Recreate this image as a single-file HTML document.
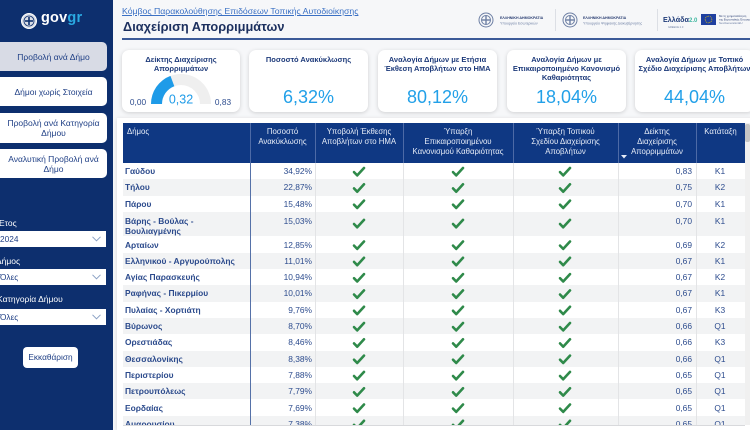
<!DOCTYPE html>
<html>
<head>
<meta charset="utf-8">
<style>
*{box-sizing:border-box;margin:0;padding:0}
html,body{width:750px;height:430px;overflow:hidden}
body{position:relative;background:#f6f7f9;font-family:"Liberation Sans","DejaVu Sans",sans-serif;color:#1f3d7e}
.abs{position:absolute}
#side{left:0;top:0;width:113px;height:430px;background:#0d2f6e}
.btn{position:absolute;left:0;width:107px;background:#fff;border-radius:0 5px 5px 0;color:#1f3f85;font-size:8.5px;text-align:center;display:flex;align-items:center;justify-content:center;line-height:10px}
.lbl{position:absolute;left:-2px;color:#fff;font-size:8.5px}
.dd{position:absolute;left:0;width:106px;height:16px;background:#fff;color:#1f3f85;font-size:8.3px;line-height:16px;padding-left:0px}
.dd svg{position:absolute;right:5px;top:5px}
.card{position:absolute;top:50px;height:62px;background:#fff;border-radius:7px;box-shadow:0 1px 4px rgba(0,0,0,0.16)}
.ct{position:absolute;left:0;right:0;top:5px;text-align:center;font-size:7.5px;font-weight:bold;color:#1d3a7a;line-height:9px;white-space:nowrap}
.cv{position:absolute;left:0;right:0;top:37px;text-align:center;font-size:18px;color:#22a0e8;white-space:nowrap}
#tcard{left:117px;top:118px;width:640px;height:312px;background:#fff;box-shadow:0 1px 4px rgba(0,0,0,0.14)}
#thead{left:123px;top:123px;width:622px;height:40px;background:#0f3883}
.th{position:absolute;top:4px;color:#e6ecf7;font-size:7.8px;line-height:10px;text-align:center;white-space:nowrap}
.hsep{position:absolute;top:0;width:1px;height:40px;background:#4d6aa6}
#tbody{left:123px;top:163px;width:622px;height:262px;overflow:hidden}
.r{position:absolute;left:0;width:622px;font-size:8.4px;color:#2d4c8e}
.r.g{background:#f2f3f4}
.r span{position:absolute;top:0;white-space:nowrap}
.n{left:2px;font-weight:bold;color:#2b4a8c}
.p{left:127px;width:62px;text-align:right}
.x{left:495px;width:74px;text-align:right}
.k{left:573px;width:48px;text-align:center}
.vs{position:absolute;top:0;width:1px;height:262px;background:#e3e4e6}
</style>
</head>
<body>

<div id="side" class="abs">
  <svg class="abs" style="left:20px;top:12px" width="18" height="18" viewBox="0 0 18 18">
    <circle cx="9" cy="9" r="7.5" fill="#d9dde6" stroke="#ffffff" stroke-width="1"/>
    <circle cx="9" cy="9" r="5" fill="none" stroke="#0d2f6e" stroke-width="0.8"/>
    <rect x="8.2" y="5" width="1.6" height="8" fill="#0d2f6e"/>
    <rect x="5" y="8.2" width="8" height="1.6" fill="#0d2f6e"/>
  </svg>
  <div class="abs" style="left:41px;top:10px;font-size:14.5px;font-weight:bold;color:#fff;letter-spacing:0.2px">gov<span style="color:#2aaae2">gr</span></div>

  <div class="btn" style="top:42px;height:29px;background:#d8dbe5">Προβολή ανά Δήμο</div>
  <div class="btn" style="top:77px;height:29px">Δήμοι χωρίς Στοιχεία</div>
  <div class="btn" style="top:113px;height:30px">Προβολή ανά Κατηγορία<br>Δήμου</div>
  <div class="btn" style="top:149px;height:29px">Αναλυτική Προβολή ανά<br>Δήμο</div>

  <div class="lbl" style="top:218px">Έτος</div>
  <div class="dd" style="top:231px">2024<svg width="9" height="6" viewBox="0 0 9 6"><polyline points="0.5,0.8 4.5,4.8 8.5,0.8" fill="none" stroke="#8aa0c4" stroke-width="1"/></svg></div>
  <div class="lbl" style="top:256px;left:-4px">Δήμος</div>
  <div class="dd" style="top:269px">Όλες<svg width="9" height="6" viewBox="0 0 9 6"><polyline points="0.5,0.8 4.5,4.8 8.5,0.8" fill="none" stroke="#8aa0c4" stroke-width="1"/></svg></div>
  <div class="lbl" style="top:294px;left:-3px">Κατηγορία Δήμου</div>
  <div class="dd" style="top:309px">Όλες<svg width="9" height="6" viewBox="0 0 9 6"><polyline points="0.5,0.8 4.5,4.8 8.5,0.8" fill="none" stroke="#8aa0c4" stroke-width="1"/></svg></div>

  <div class="abs" style="left:23px;top:347px;width:55px;height:21px;background:#fff;border-radius:4px;color:#1f3f85;font-size:8.3px;line-height:21px;text-align:center">Εκκαθάριση</div>
</div>

<div class="abs" style="left:122px;top:6px;font-size:8.7px;color:#3a70c4;text-decoration:underline;white-space:nowrap">Κόμβος Παρακολούθησης Επιδόσεων Τοπικής Αυτοδιοίκησης</div>
<div class="abs" style="left:123px;top:19px;font-size:12.8px;font-weight:bold;color:#1b2f5e;white-space:nowrap">Διαχείριση Απορριμμάτων</div>
<div class="abs" style="left:122px;top:38px;width:628px;height:2px;background:#3b5a98"></div>

<svg class="abs" style="left:470px;top:5px" width="280" height="32" viewBox="0 0 280 32">
  <g fill="none" stroke="#6d7fa4" stroke-width="1">
    <circle cx="16" cy="15" r="7"/><circle cx="16" cy="15" r="4.5"/>
    <circle cx="100" cy="15" r="7"/><circle cx="100" cy="15" r="4.5"/>
  </g>
  <rect x="15.3" y="11" width="1.4" height="8" fill="#6d7fa4"/><rect x="12" y="14.3" width="8" height="1.4" fill="#6d7fa4"/>
  <rect x="99.3" y="11" width="1.4" height="8" fill="#6d7fa4"/><rect x="96" y="14.3" width="8" height="1.4" fill="#6d7fa4"/>
  <text x="30" y="14" font-size="3.6" font-weight="bold" fill="#2b3f73" font-family="Liberation Sans">ΕΛΛΗΝΙΚΗ ΔΗΜΟΚΡΑΤΙΑ</text>
  <text x="30" y="19.5" font-size="3.6" fill="#6d7fa4" font-family="Liberation Sans">Υπουργείο Εσωτερικών</text>
  <rect x="85" y="4" width="0.8" height="22" fill="#d6d9e0"/>
  <text x="113" y="14" font-size="3.6" font-weight="bold" fill="#2b3f73" font-family="Liberation Sans">ΕΛΛΗΝΙΚΗ ΔΗΜΟΚΡΑΤΙΑ</text>
  <text x="113" y="19.5" font-size="3.6" fill="#6d7fa4" font-family="Liberation Sans">Υπουργείο Ψηφιακής Διακυβέρνησης</text>
  <rect x="187" y="4" width="0.8" height="22" fill="#d6d9e0"/>
  <text x="193" y="17" font-size="7.2" font-weight="bold" fill="#1d3a78" font-family="Liberation Sans">Ελλάδα</text>
  <text x="219" y="17" font-size="6" font-weight="bold" fill="#3fb7a0" font-family="Liberation Sans">2.0</text>
  <text x="198" y="23" font-size="2.6" fill="#6d7fa4" font-family="Liberation Sans">GREECE 2.0</text>
  <rect x="231" y="9" width="15" height="11" fill="#1f40a0"/>
  <circle cx="238.5" cy="14.5" r="3.3" fill="none" stroke="#f4d000" stroke-width="0.8" stroke-dasharray="0.8,0.9"/>
  <text x="249" y="12" font-size="2.8" fill="#2b3f73" font-family="Liberation Sans">Με τη χρηματοδότηση</text>
  <text x="249" y="15.5" font-size="2.8" fill="#2b3f73" font-family="Liberation Sans">της Ευρωπαϊκής Ένωσης</text>
  <text x="249" y="19" font-size="2.8" fill="#6d7fa4" font-family="Liberation Sans">NextGenerationEU</text>
</svg>

<div class="card" style="left:122px;width:118px">
  <div class="ct">Δείκτης Διαχείρισης<br>Απορριμμάτων</div>
</div>
<div class="card" style="left:249px;width:119px">
  <div class="ct">Ποσοστό Ανακύκλωσης</div>
  <div class="cv">6,32%</div>
</div>
<div class="card" style="left:378px;width:119px">
  <div class="ct">Αναλογία Δήμων με Ετήσια<br>Έκθεση Αποβλήτων στο ΗΜΑ</div>
  <div class="cv">80,12%</div>
</div>
<div class="card" style="left:507px;width:119px">
  <div class="ct">Αναλογία Δήμων με<br>Επικαιροποιημένο Κανονισμό<br>Καθαριότητας</div>
  <div class="cv">18,04%</div>
</div>
<div class="card" style="left:635px;width:119px">
  <div class="ct">Αναλογία Δήμων με Τοπικό<br>Σχέδιο Διαχείρισης Αποβλήτων</div>
  <div class="cv">44,04%</div>
</div>

<svg class="abs" style="left:0;top:0" width="750" height="430" viewBox="0 0 750 430">
  <path d="M151,104 A30,30 0 0 1 211,104 L200,104 A19,19 0 0 0 162,104 Z" fill="#efefef"/>
  <path d="M151,104 A30,30 0 0 1 170.45,75.92 L174.32,86.22 A19,19 0 0 0 162,104 Z" fill="#1e9be8"/>
  <text x="181" y="103.5" text-anchor="middle" font-size="12.5" fill="#1e9be8" font-family="Liberation Sans">0,32</text>
  <text x="138" y="105" text-anchor="middle" font-size="8.3" fill="#2d4c8e" font-family="Liberation Sans">0,00</text>
  <text x="223" y="105" text-anchor="middle" font-size="8.3" fill="#2d4c8e" font-family="Liberation Sans">0,83</text>
</svg>

<div id="tcard" class="abs"></div>
<div id="thead" class="abs">
  <div class="th" style="left:4px;text-align:left">Δήμος</div>
  <div class="th" style="left:127px;width:65px">Ποσοστό<br>Ανακύκλωσης</div>
  <div class="th" style="left:192px;width:88px">Υποβολή Έκθεσης<br>Αποβλήτων στο ΗΜΑ</div>
  <div class="th" style="left:280px;width:110px">Ύπαρξη<br>Επικαιροποιημένου<br>Κανονισμού Καθαριότητας</div>
  <div class="th" style="left:390px;width:105px">Ύπαρξη Τοπικού<br>Σχεδίου Διαχείρισης<br>Αποβλήτων</div>
  <div class="th" style="left:495px;width:78px">Δείκτης<br>Διαχείρισης<br>Απορριμμάτων</div>
  <div class="th" style="left:573px;width:49px">Κατάταξη</div>
  <svg class="abs" style="left:498px;top:32px" width="6" height="4" viewBox="0 0 6 4"><polygon points="0,0 6,0 3,3.5" fill="#e6ecf7"/></svg>
  <div class="hsep" style="left:127px"></div>
  <div class="hsep" style="left:192px"></div>
  <div class="hsep" style="left:280px"></div>
  <div class="hsep" style="left:390px"></div>
  <div class="hsep" style="left:495px"></div>
  <div class="hsep" style="left:573px"></div>
</div>
<div class="abs" style="left:745px;top:123px;width:5px;height:302px;background:#f0f0f0"></div>
<div class="abs" style="left:745px;top:124px;width:5px;height:18px;background:#c6c6c6;border-radius:2px"></div>

<div id="tbody" class="abs">
  <div class="r" style="top:0;height:16.3px;line-height:16.3px"><span class="n">Γαύδου</span><span class="p">34,92%</span><span class="x">0,83</span><span class="k">Κ1</span></div>
  <div class="r g" style="top:16.3px;height:16.3px;line-height:16.3px"><span class="n">Τήλου</span><span class="p">22,87%</span><span class="x">0,75</span><span class="k">Κ2</span></div>
  <div class="r" style="top:32.6px;height:16.3px;line-height:16.3px"><span class="n">Πάρου</span><span class="p">15,48%</span><span class="x">0,70</span><span class="k">Κ1</span></div>
  <div class="r g" style="top:48.9px;height:24.6px;line-height:10.5px"><span class="n" style="top:4px">Βάρης - Βούλας -<br>Βουλιαγμένης</span><span class="p" style="top:4px">15,03%</span><span class="x" style="top:4px">0,70</span><span class="k" style="top:4px">Κ1</span></div>
  <div class="r" style="top:73.5px;height:16.3px;line-height:16.3px"><span class="n">Αρταίων</span><span class="p">12,85%</span><span class="x">0,69</span><span class="k">Κ2</span></div>
  <div class="r g" style="top:89.8px;height:16.3px;line-height:16.3px"><span class="n">Ελληνικού - Αργυρούπολης</span><span class="p">11,01%</span><span class="x">0,67</span><span class="k">Κ1</span></div>
  <div class="r" style="top:106.1px;height:16.3px;line-height:16.3px"><span class="n">Αγίας Παρασκευής</span><span class="p">10,94%</span><span class="x">0,67</span><span class="k">Κ2</span></div>
  <div class="r g" style="top:122.4px;height:16.3px;line-height:16.3px"><span class="n">Ραφήνας - Πικερμίου</span><span class="p">10,01%</span><span class="x">0,67</span><span class="k">Κ1</span></div>
  <div class="r" style="top:138.7px;height:16.3px;line-height:16.3px"><span class="n">Πυλαίας - Χορτιάτη</span><span class="p">9,76%</span><span class="x">0,67</span><span class="k">Κ3</span></div>
  <div class="r g" style="top:155px;height:16.3px;line-height:16.3px"><span class="n">Βύρωνος</span><span class="p">8,70%</span><span class="x">0,66</span><span class="k">Q1</span></div>
  <div class="r" style="top:171.3px;height:16.3px;line-height:16.3px"><span class="n">Ορεστιάδας</span><span class="p">8,46%</span><span class="x">0,66</span><span class="k">Κ3</span></div>
  <div class="r g" style="top:187.6px;height:16.3px;line-height:16.3px"><span class="n">Θεσσαλονίκης</span><span class="p">8,38%</span><span class="x">0,66</span><span class="k">Q1</span></div>
  <div class="r" style="top:203.9px;height:16.3px;line-height:16.3px"><span class="n">Περιστερίου</span><span class="p">7,88%</span><span class="x">0,65</span><span class="k">Q1</span></div>
  <div class="r g" style="top:220.2px;height:16.3px;line-height:16.3px"><span class="n">Πετρουπόλεως</span><span class="p">7,79%</span><span class="x">0,65</span><span class="k">Q1</span></div>
  <div class="r" style="top:236.5px;height:16.3px;line-height:16.3px"><span class="n">Εορδαίας</span><span class="p">7,69%</span><span class="x">0,65</span><span class="k">Q1</span></div>
  <div class="r g" style="top:252.8px;height:16.3px;line-height:16.3px"><span class="n">Αμαρουσίου</span><span class="p">7,38%</span><span class="x">0,65</span><span class="k">Q1</span></div>

  <div class="vs" style="left:127px;background:#5571a8"></div>
  <div class="vs" style="left:192px"></div>
  <div class="vs" style="left:280px"></div>
  <div class="vs" style="left:390px"></div>
  <div class="vs" style="left:495px"></div>
  <div class="vs" style="left:573px"></div>

  <svg class="abs" style="left:0;top:0" width="622" height="262" viewBox="0 0 622 262">
    <defs>
      <path id="ck" d="M-5,0.5 L-1.8,3.8 L5,-3.6" fill="none" stroke="#2f8a4a" stroke-width="2.6" stroke-linecap="round" stroke-linejoin="round"/>
    </defs>
    <g>
      <use href="#ck" x="236" y="8.6"/><use href="#ck" x="335" y="8.6"/><use href="#ck" x="442" y="8.6"/>
      <use href="#ck" x="236" y="24.9"/><use href="#ck" x="335" y="24.9"/><use href="#ck" x="442" y="24.9"/>
      <use href="#ck" x="236" y="41.2"/><use href="#ck" x="335" y="41.2"/><use href="#ck" x="442" y="41.2"/>
      <use href="#ck" x="236" y="60.5"/><use href="#ck" x="335" y="60.5"/><use href="#ck" x="442" y="60.5"/>
      <use href="#ck" x="236" y="82.1"/><use href="#ck" x="335" y="82.1"/><use href="#ck" x="442" y="82.1"/>
      <use href="#ck" x="236" y="98.4"/><use href="#ck" x="335" y="98.4"/><use href="#ck" x="442" y="98.4"/>
      <use href="#ck" x="236" y="114.7"/><use href="#ck" x="335" y="114.7"/><use href="#ck" x="442" y="114.7"/>
      <use href="#ck" x="236" y="131"/><use href="#ck" x="335" y="131"/><use href="#ck" x="442" y="131"/>
      <use href="#ck" x="236" y="147.3"/><use href="#ck" x="335" y="147.3"/><use href="#ck" x="442" y="147.3"/>
      <use href="#ck" x="236" y="163.6"/><use href="#ck" x="335" y="163.6"/><use href="#ck" x="442" y="163.6"/>
      <use href="#ck" x="236" y="179.9"/><use href="#ck" x="335" y="179.9"/><use href="#ck" x="442" y="179.9"/>
      <use href="#ck" x="236" y="196.2"/><use href="#ck" x="335" y="196.2"/><use href="#ck" x="442" y="196.2"/>
      <use href="#ck" x="236" y="212.5"/><use href="#ck" x="335" y="212.5"/><use href="#ck" x="442" y="212.5"/>
      <use href="#ck" x="236" y="228.8"/><use href="#ck" x="335" y="228.8"/><use href="#ck" x="442" y="228.8"/>
      <use href="#ck" x="236" y="245.1"/><use href="#ck" x="335" y="245.1"/><use href="#ck" x="442" y="245.1"/>
      <use href="#ck" x="236" y="261.4"/><use href="#ck" x="335" y="261.4"/><use href="#ck" x="442" y="261.4"/>
    </g>
  </svg>
</div>
<div class="abs" style="left:123px;top:425px;width:622px;height:1px;background:#d8d9dc"></div>

</body>
</html>
